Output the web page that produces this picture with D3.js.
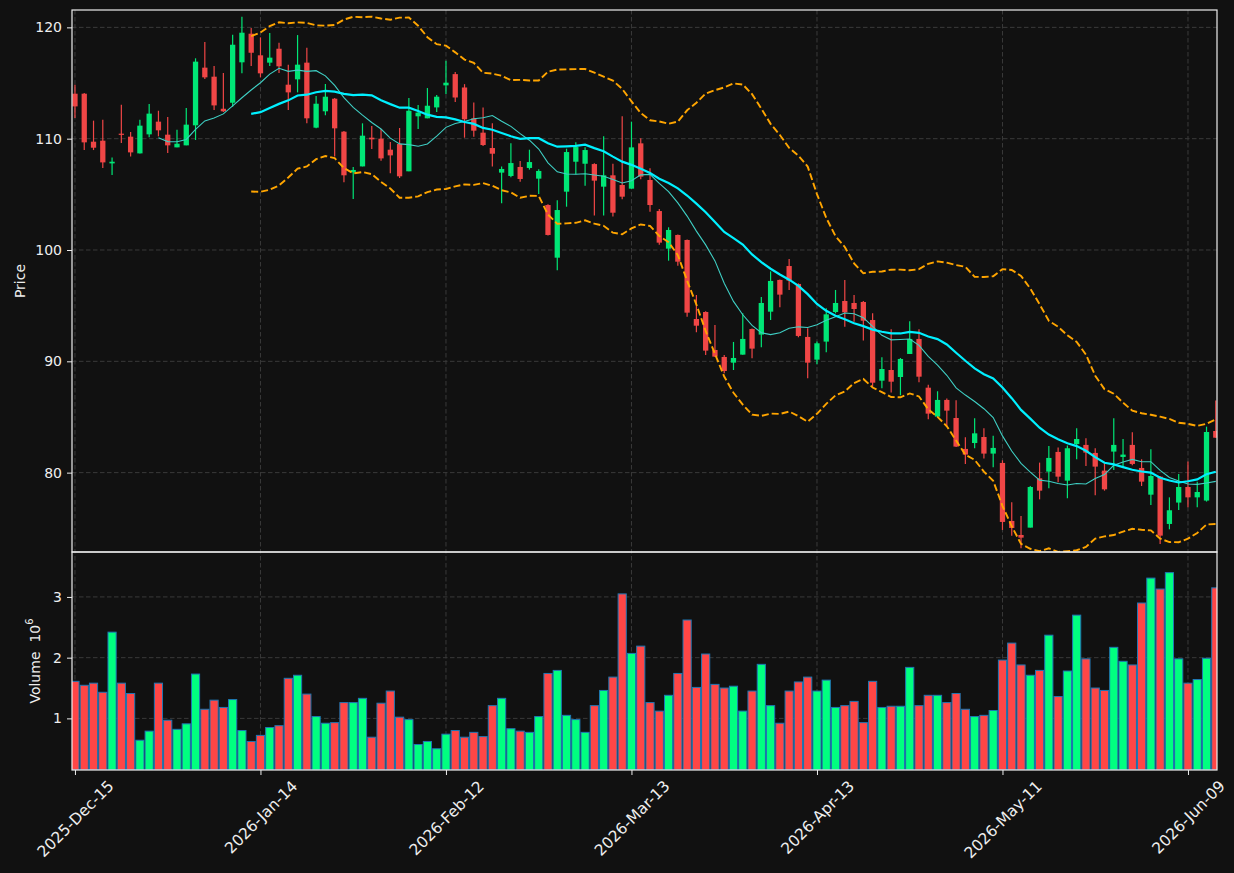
<!DOCTYPE html>
<html>
<head>
<meta charset="utf-8">
<script src="https://cdn.jsdelivr.net/npm/d3@7"></script>
<style>
  body { margin: 0; background: #111111; }
  svg { display: block; font-family: "DejaVu Sans", sans-serif; }
  .axis text { fill: #eeeeee; font-size: 14px; font-family: "DejaVu Sans", sans-serif; }
  .x-axis text { font-size: 15.5px; }
  .axis line { stroke: #eeeeee; stroke-width: 1; }
  .axis path { display: none; }
  .grid line { stroke: #3a3a3a; stroke-width: 1; stroke-dasharray: 4.5,2.5; }
  .axis-title { fill: #eeeeee; font-size: 14px; font-family: "DejaVu Sans", sans-serif; white-space: pre; }
</style>
</head>
<body>
<div id="chart"></div>
<script>
// daily bars, 124 trading days
const opens = [114.04,114.04,109.73,109.82,107.78,110.45,110.18,108.68,110.39,111.53,
  110.36,109.22,109.40,111.20,116.38,115.57,112.69,113.23,116.86,119.43,
  117.49,116.83,118.08,114.85,115.33,116.83,110.99,112.46,113.59,110.63,
  106.98,107.51,110.09,110.00,109.01,109.52,107.07,112.01,111.83,112.81,
  114.79,115.80,114.60,111.83,110.54,109.16,106.95,106.65,107.46,107.37,
  106.41,104.04,99.31,105.24,107.93,107.75,107.72,105.69,106.71,105.84,
  105.51,109.58,106.29,103.50,100.12,101.35,100.90,93.80,94.43,91.02,
  90.39,89.88,90.60,92.90,92.40,94.46,97.31,98.56,96.95,92.19,
  90.15,91.77,94.43,95.42,95.24,95.33,93.71,88.26,89.22,88.59,
  90.66,92.01,87.63,85.03,86.53,84.91,82.13,82.66,83.20,81.71,
  80.87,75.66,74.40,75.06,79.49,80.09,81.86,79.28,82.57,82.49,
  81.77,80.18,81.89,81.41,82.49,80.42,78.02,79.64,75.39,77.31,
  78.71,77.78,77.49,83.74];
const highs = [114.85,114.10,111.62,111.71,108.32,113.05,110.60,111.71,113.11,112.51,
  111.95,110.81,112.75,117.22,118.68,116.53,115.90,119.34,120.96,119.94,
  119.10,119.49,118.62,116.65,119.31,118.17,113.83,114.91,113.65,110.70,
  107.46,111.38,111.14,110.87,109.70,110.96,113.65,113.02,114.55,113.92,
  117.01,116.00,114.90,113.26,112.81,111.38,107.49,109.58,107.99,109.01,
  107.25,104.10,104.46,109.10,109.67,109.22,107.80,110.21,107.75,112.01,
  111.53,110.03,107.34,103.68,102.04,101.40,100.95,95.96,94.50,93.26,
  90.57,91.74,94.31,92.95,95.78,98.08,97.35,99.19,97.00,92.96,
  91.77,94.76,96.41,97.31,95.96,95.42,94.31,90.36,92.87,90.30,
  93.59,92.87,87.90,87.31,86.65,86.50,83.17,84.88,83.98,83.32,
  81.11,77.34,76.11,78.80,80.90,82.40,82.25,82.43,83.98,83.08,
  82.19,80.84,84.88,83.02,83.62,81.20,82.10,79.70,77.78,79.88,
  80.99,79.19,84.13,86.47];
const lows = [111.86,108.98,108.98,107.37,106.74,109.61,108.41,108.68,110.12,110.21,
  108.71,109.22,109.40,109.88,115.36,112.57,112.40,112.87,115.87,116.53,
  115.51,116.53,115.90,112.57,114.16,111.38,110.93,112.10,108.41,106.08,
  104.58,107.51,109.07,108.02,106.89,106.47,107.07,110.87,111.83,112.40,
  114.01,113.30,110.09,110.18,109.34,107.49,104.19,106.53,106.14,107.22,
  105.03,101.30,98.17,103.89,106.80,105.78,103.11,103.11,103.02,104.55,
  105.51,106.35,103.44,100.48,99.04,98.59,94.01,92.60,90.57,90.38,
  88.92,89.22,90.60,90.27,91.26,93.71,94.85,96.41,92.16,88.47,
  89.73,90.81,94.31,93.11,93.56,91.86,87.72,87.57,87.19,86.95,
  90.66,88.11,84.79,85.03,84.19,82.30,80.78,82.19,81.26,80.48,
  74.85,74.34,73.20,75.06,77.60,78.59,79.13,77.69,81.20,80.60,
  77.96,78.38,80.24,80.54,80.66,78.80,77.10,73.59,74.91,76.65,
  76.89,76.89,77.40,83.14];
const closes = [112.90,109.67,109.19,107.87,107.93,110.39,108.77,111.17,112.25,110.75,
  109.40,109.55,111.26,116.92,115.51,112.99,112.46,118.44,119.52,117.72,
  115.87,117.28,116.50,114.16,116.65,111.83,113.14,113.77,110.93,106.71,
  107.19,110.27,109.94,108.23,108.50,106.62,112.51,112.34,112.96,113.77,
  115.03,113.70,111.74,110.72,109.43,108.65,107.28,107.81,106.38,107.90,
  107.10,101.35,103.59,108.80,109.25,108.98,106.23,106.71,103.35,104.79,
  109.22,106.59,104.04,100.66,101.80,98.95,94.37,93.20,90.96,90.42,
  89.13,90.30,92.01,91.14,95.24,97.22,95.99,97.25,92.28,89.88,
  91.62,94.22,95.24,94.40,94.70,93.65,88.08,89.31,88.17,90.21,
  92.01,88.62,85.30,86.53,85.57,82.34,81.62,83.53,81.71,82.22,
  75.57,75.03,74.16,78.71,78.38,81.32,79.64,82.19,83.02,81.80,
  80.54,78.50,82.49,81.62,80.78,79.19,79.70,74.34,76.62,78.71,
  77.78,78.26,83.65,83.14];
// volume in millions
const volumes = [1.61,1.545,1.58,1.43,2.42,1.58,1.41,0.64,0.79,1.58,
  0.97,0.82,0.91,1.73,1.15,1.30,1.18,1.31,0.80,0.62,
  0.72,0.85,0.88,1.66,1.71,1.40,1.03,0.92,0.93,1.26,
  1.26,1.33,0.69,1.25,1.45,1.02,0.98,0.57,0.62,0.50,
  0.74,0.80,0.69,0.77,0.70,1.21,1.33,0.83,0.79,0.77,
  1.03,1.74,1.79,1.05,0.98,0.77,1.21,1.46,1.68,3.05,
  2.07,2.19,1.26,1.12,1.38,1.74,2.62,1.51,2.06,1.56,
  1.50,1.53,1.12,1.45,1.89,1.21,0.92,1.45,1.60,1.68,
  1.45,1.63,1.18,1.21,1.28,0.93,1.61,1.18,1.20,1.20,
  1.84,1.21,1.38,1.38,1.26,1.41,1.15,1.03,1.05,1.13,
  1.96,2.24,1.88,1.71,1.79,2.37,1.36,1.78,2.70,1.98,
  1.50,1.46,2.17,1.94,1.88,2.90,3.31,3.13,3.40,1.98,
  1.58,1.64,1.99,3.15];

const xTickIdx = [0, 20, 40, 60, 80, 100, 120];
const xTickLabels = ['2025-Dec-15', '2026-Jan-14', '2026-Feb-12', '2026-Mar-13', '2026-Apr-13', '2026-May-11', '2026-Jun-09'];
const priceTicks = [80, 90, 100, 110, 120];
const volumeTicks = [1, 2, 3];

const width = 1234, height = 873;
const margin = {left: 72, right: 17, top: 10, bottom: 103};
const priceBottom = 552;
const plotRight = width - margin.right;
const volBottom = height - margin.bottom;

const upColor = '#00e676', downColor = '#f04646';
const volUp = '#00ff80', volDown = '#ff4646';

const data = closes.map((c, i) => ({i, o: opens[i], h: highs[i], l: lows[i], c, v: volumes[i]}));

// rolling indicators
function rolling(n, fn) {
    return closes.map((c, i) => i < n - 1 ? null : fn(closes.slice(i - n + 1, i + 1)));
}
const ma10 = rolling(10, d3.mean);
const ma20 = rolling(20, d3.mean);
const sd20 = rolling(20, w => { const m = d3.mean(w); return Math.sqrt(d3.mean(w, v => (v - m) * (v - m))); });
const bbUp = ma20.map((m, i) => m === null ? null : m + 2 * sd20[i]);
const bbLo = ma20.map((m, i) => m === null ? null : m - 2 * sd20[i]);

const svg = d3.select('#chart').append('svg')
    .attr('width', width)
    .attr('height', height);

svg.append('rect').attr('width', width).attr('height', height).attr('fill', '#111111');

const x = d3.scaleLinear().domain([-0.32, 123.13]).range([margin.left, plotRight]);
const step = x(1) - x(0);
const yP = d3.scaleLinear().domain([72.87, 121.56]).range([priceBottom, margin.top]);
const yV = d3.scaleLinear().domain([0.3 * d3.min(volumes), 1.1 * d3.max(volumes)]).range([volBottom, priceBottom]);

const defs = svg.append('defs');
defs.append('clipPath').attr('id', 'clipP').append('rect')
    .attr('x', margin.left).attr('y', margin.top)
    .attr('width', plotRight - margin.left).attr('height', priceBottom - margin.top);
defs.append('clipPath').attr('id', 'clipV').append('rect')
    .attr('x', margin.left).attr('y', priceBottom)
    .attr('width', plotRight - margin.left).attr('height', volBottom - priceBottom);

// grids
const grid = svg.append('g').attr('class', 'grid');
grid.selectAll('.hp').data(priceTicks).join('line')
    .attr('x1', margin.left).attr('x2', plotRight)
    .attr('y1', d => yP(d)).attr('y2', d => yP(d));
grid.selectAll('.hv').data(volumeTicks).join('line').attr('class', 'hv')
    .attr('x1', margin.left).attr('x2', plotRight)
    .attr('y1', d => yV(d)).attr('y2', d => yV(d));
grid.selectAll('.vx').data(xTickIdx).join('line').attr('class', 'vx')
    .attr('x1', d => x(d)).attr('x2', d => x(d))
    .attr('y1', margin.top).attr('y2', volBottom);

// candles
const candles = svg.append('g').attr('clip-path', 'url(#clipP)');
const bodyW = step * 0.57;
const cg = candles.selectAll('g').data(data).join('g');
cg.append('line')
    .attr('x1', d => x(d.i)).attr('x2', d => x(d.i))
    .attr('y1', d => yP(d.h)).attr('y2', d => yP(d.l))
    .attr('stroke', d => d.c >= d.o ? upColor : downColor)
    .attr('stroke-width', 1.2);
cg.append('rect')
    .attr('x', d => x(d.i) - bodyW / 2)
    .attr('width', bodyW)
    .attr('y', d => yP(Math.max(d.o, d.c)))
    .attr('height', d => Math.max(1.2, Math.abs(yP(d.o) - yP(d.c))))
    .attr('fill', d => d.c >= d.o ? upColor : downColor);

// moving averages and bands
const line = d3.line()
    .defined(d => d !== null)
    .x((d, i) => x(i))
    .y(d => yP(d));
const lines = svg.append('g').attr('clip-path', 'url(#clipP)').attr('fill', 'none');
lines.append('path').attr('d', line(ma10)).attr('stroke', '#3fcfc4').attr('stroke-width', 1.1);
lines.append('path').attr('d', line(ma20)).attr('stroke', '#00f0ff').attr('stroke-width', 2.2);
lines.append('path').attr('d', line(bbUp)).attr('stroke', '#ffa500').attr('stroke-width', 1.9).attr('stroke-dasharray', '7,3');
lines.append('path').attr('d', line(bbLo)).attr('stroke', '#ffa500').attr('stroke-width', 1.9).attr('stroke-dasharray', '7,3');

// volume
const volW = step * 0.88;
svg.append('g').attr('clip-path', 'url(#clipV)')
    .selectAll('rect').data(data).join('rect')
    .attr('x', d => x(d.i) - volW / 2)
    .attr('width', volW)
    .attr('y', d => yV(d.v))
    .attr('height', d => volBottom - yV(d.v))
    .attr('fill', d => d.c >= d.o ? volUp : volDown)
    .attr('stroke', '#1f77b4')
    .attr('stroke-width', 1);

// frames
[[margin.top, priceBottom], [priceBottom, volBottom]].forEach(([t, b]) => {
    svg.append('rect')
        .attr('x', margin.left).attr('y', t)
        .attr('width', plotRight - margin.left).attr('height', b - t)
        .attr('fill', 'none').attr('stroke', '#eeeeee').attr('stroke-width', 1.2);
});

// axes
svg.append('g').attr('class', 'axis')
    .attr('transform', `translate(${margin.left},0)`)
    .call(d3.axisLeft(yP).tickValues(priceTicks).tickFormat(d3.format('d')).tickSize(5).tickPadding(5));
svg.append('g').attr('class', 'axis')
    .attr('transform', `translate(${margin.left},0)`)
    .call(d3.axisLeft(yV).tickValues(volumeTicks).tickFormat(d3.format('d')).tickSize(5).tickPadding(5));

const xAxisG = svg.append('g').attr('class', 'axis x-axis')
    .attr('transform', `translate(0,${volBottom})`)
    .call(d3.axisBottom(x).tickValues(xTickIdx).tickFormat((d, i) => xTickLabels[i]).tickSize(5).tickPadding(5));
xAxisG.selectAll('text').each(function() {
    const t = d3.select(this);
    const len = this.getComputedTextLength();
    const half = (len + 15) * Math.SQRT1_2 / 2;
    t.attr('y', null).attr('dy', '0.35em')
        .attr('text-anchor', 'middle')
        .attr('transform', `translate(0,${8 + half}) rotate(-45)`);
});

// axis titles
svg.append('text').attr('class', 'axis-title')
    .attr('transform', `translate(25,${(margin.top + priceBottom) / 2}) rotate(-90)`)
    .attr('text-anchor', 'middle')
    .text('Price');
const vt = svg.append('text').attr('class', 'axis-title')
    .attr('transform', `translate(40,${(priceBottom + volBottom) / 2}) rotate(-90)`)
    .attr('text-anchor', 'middle');
vt.append('tspan').text('Volume  10');
vt.append('tspan').attr('font-size', '10px').attr('dy', '-7').text('6');
</script>
</body>
</html>
